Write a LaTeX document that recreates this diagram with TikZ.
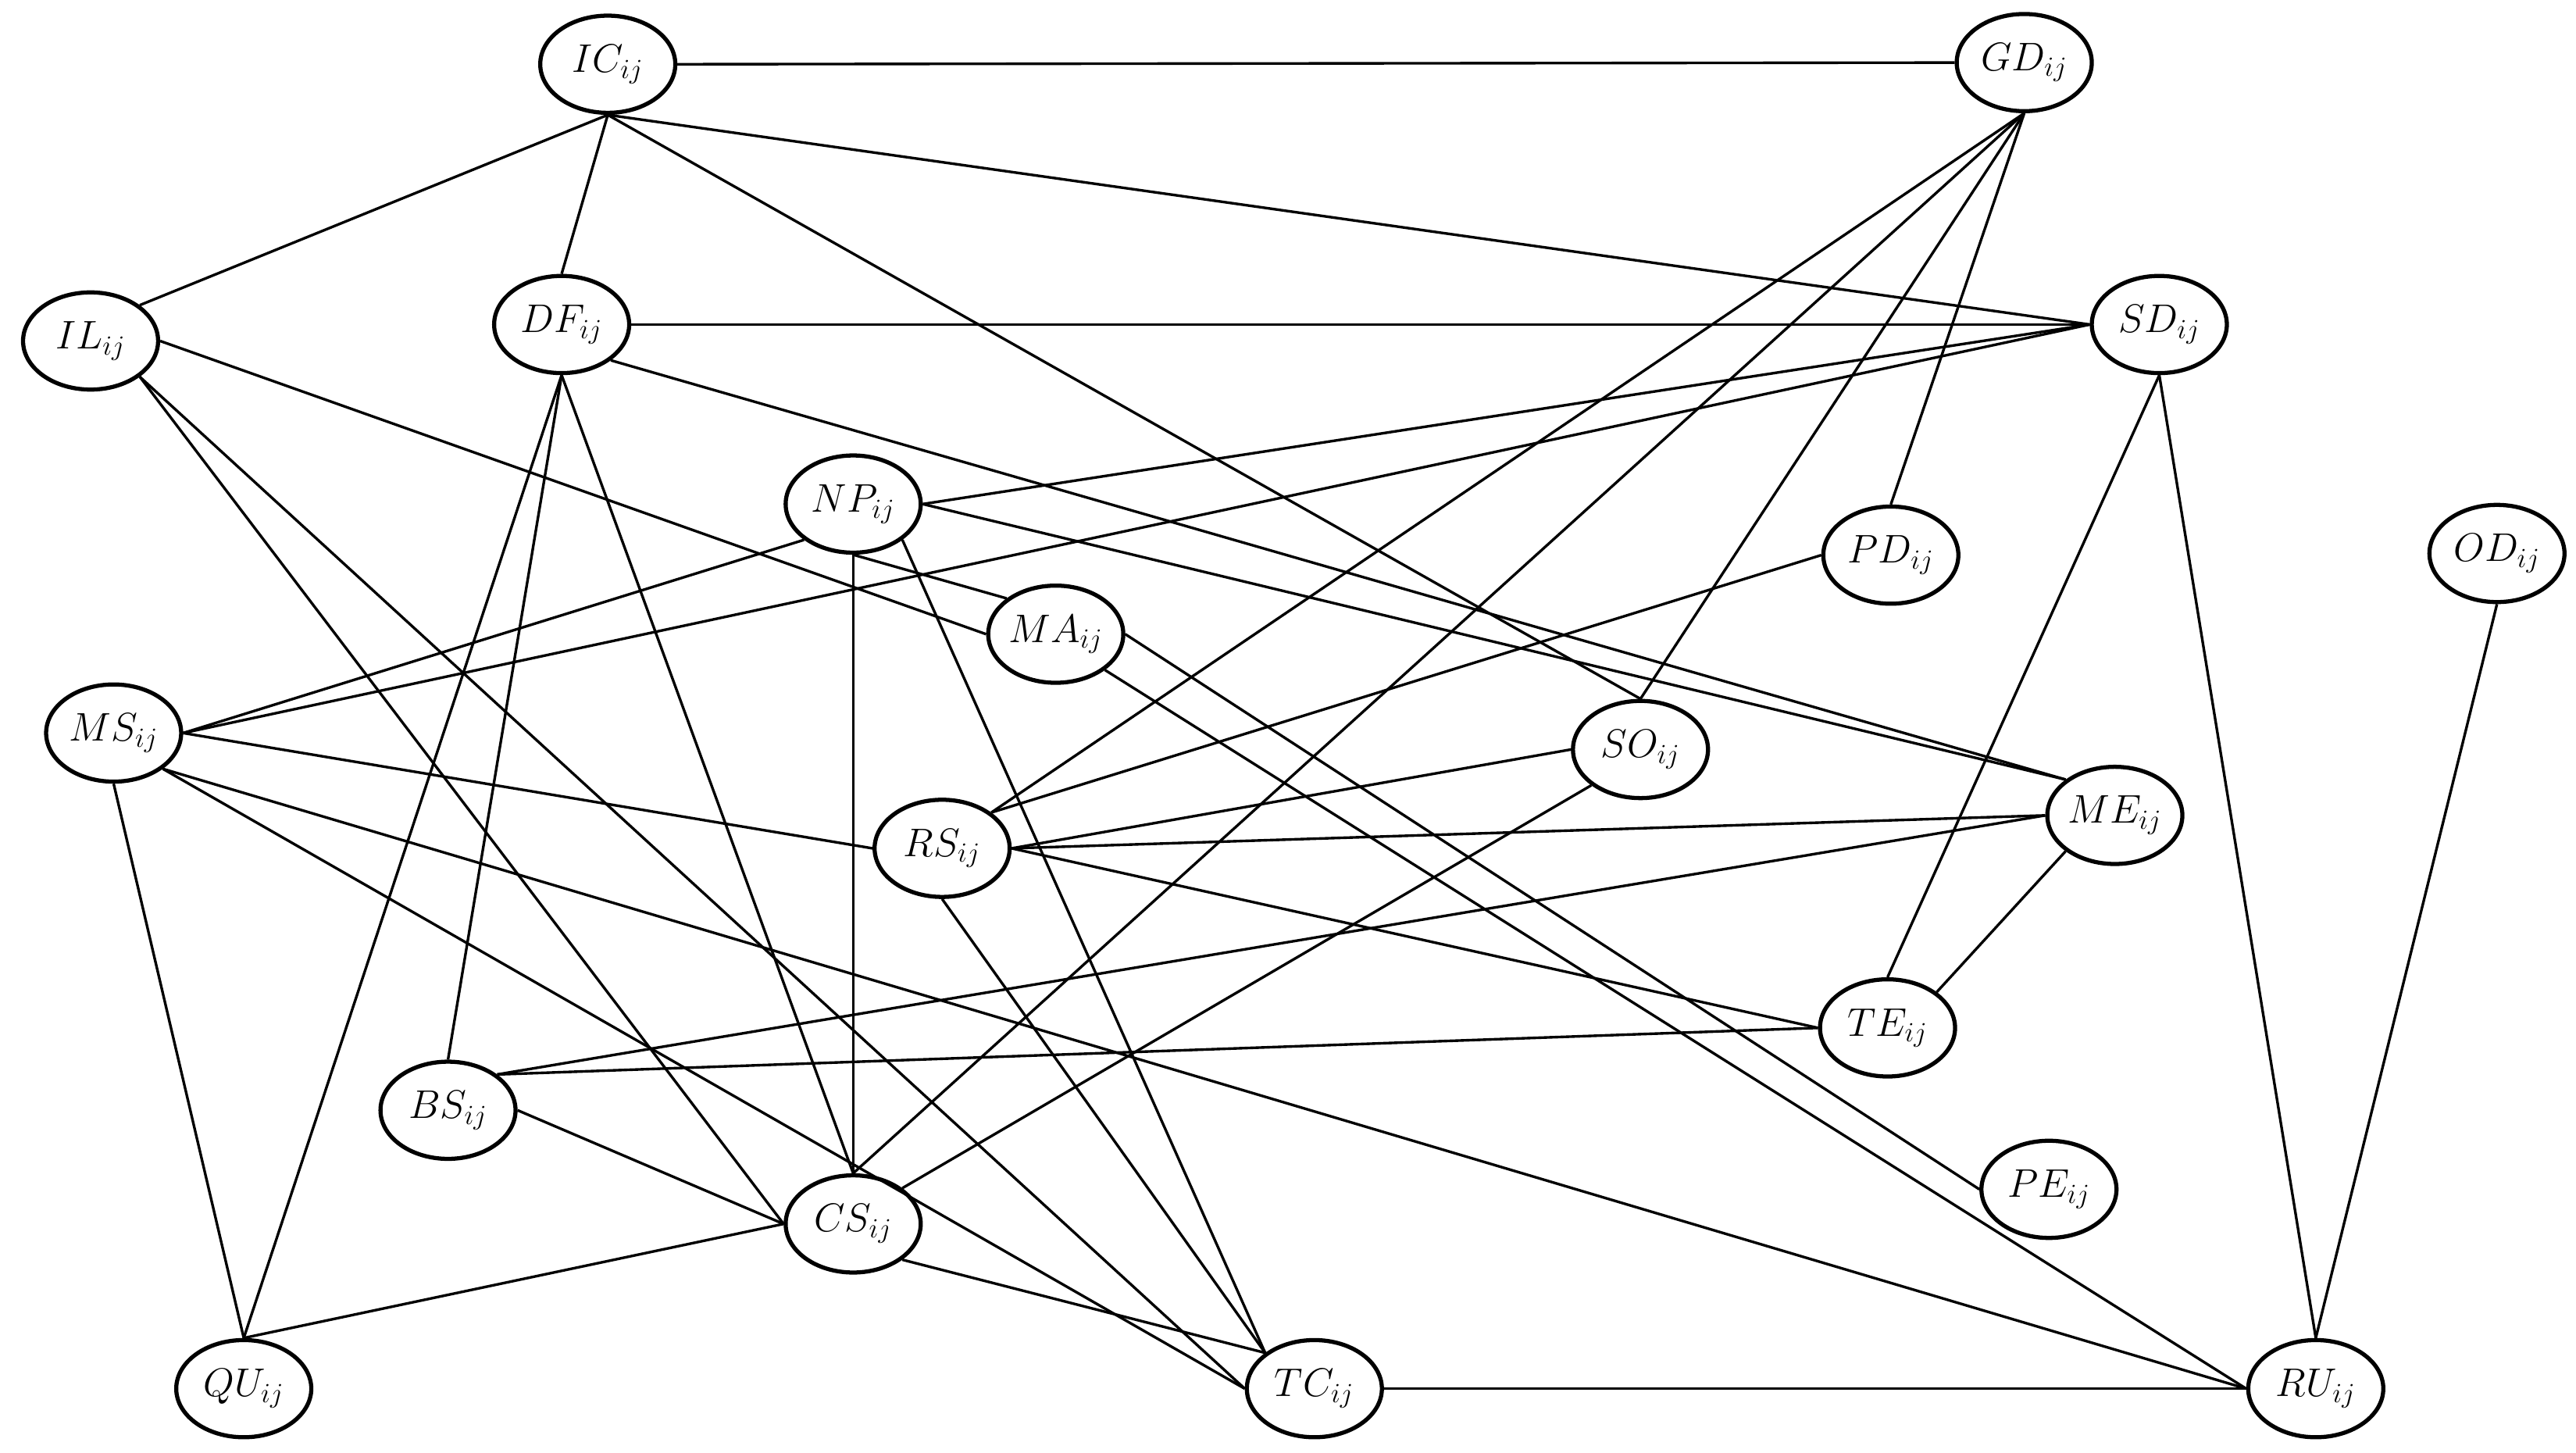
\documentclass[tikz,border=0pt]{standalone}
\usepackage{graphicx}
\DeclareMathSizes{20.74}{20.74}{14.4}{10}
\usetikzlibrary{shapes.geometric}
\newcommand{\lbl}[2]{\scalebox{1.17}{$#1_{#2}$}}
\begin{document}
\begin{tikzpicture}[x=1pt,y=-1pt,
  var/.style={ellipse, draw, line width=2.5pt, minimum width=82pt, minimum height=59pt, inner sep=0pt, font=\fontsize{20.74}{24}\selectfont, fill=white},
  link/.style={line width=1.6pt}]
\useasboundingbox (0,0) rectangle (1564,882);
% nodes
\node[var] (IC) at (369,39) {\lbl{IC}{ij}};
\node[var] (GD) at (1229,38) {\lbl{GD}{ij}};
\node[var] (IL) at (55,207) {\lbl{IL}{ij}};
\node[var] (DF) at (341,197) {\lbl{DF}{ij}};
\node[var] (SD) at (1311,197) {\lbl{SD}{ij}};
\node[var] (NP) at (518,306) {\lbl{NP}{ij}};
\node[var] (PD) at (1148,337) {\lbl{PD}{ij}};
\node[var] (OD) at (1516,336) {\lbl{OD}{ij}};
\node[var] (MA) at (641,385) {\lbl{MA}{ij}};
\node[var] (MS) at (69,445) {\lbl{MS}{ij}};
\node[var] (SO) at (996,455) {\lbl{SO}{ij}};
\node[var] (RS) at (572,515) {\lbl{RS}{ij}};
\node[var] (ME) at (1284,495) {\lbl{ME}{ij}};
\node[var] (TE) at (1146,624) {\lbl{TE}{ij}};
\node[var] (BS) at (272,674) {\lbl{BS}{ij}};
\node[var] (PE) at (1244,722) {\lbl{PE}{ij}};
\node[var] (CS) at (518,743) {\lbl{CS}{ij}};
\node[var] (QU) at (148,843) {\lbl{QU}{ij}};
\node[var] (TC) at (798,843) {\lbl{TC}{ij}};
\node[var] (RU) at (1406,843) {\lbl{RU}{ij}};
% connectors
\draw[link] (IC.east) -- (GD.west);
\draw[link] (IC.south) -- (IL.north east);
\draw[link] (IC.south) -- (DF.north);
\draw[link] (IC.south) -- (SD.west);
\draw[link] (IC.south) -- (SO.north);
\draw[link] (GD.south) -- (RS.north east);
\draw[link] (GD.south) -- (CS.north);
\draw[link] (GD.south) -- (SO.north);
\draw[link] (GD.south) -- (PD.north);
\draw[link] (IL.east) -- (MA.west);
\draw[link] (IL.south east) -- (CS.west);
\draw[link] (IL.south east) -- (TC.west);
\draw[link] (DF.east) -- (SD.west);
\draw[link] (DF.south) -- (QU.north);
\draw[link] (DF.south) -- (BS.north);
\draw[link] (DF.south) -- (CS.north);
\draw[link] (DF.south east) -- (ME.north west);
\draw[link] (SD.west) -- (NP.east);
\draw[link] (SD.west) -- (MS.east);
\draw[link] (SD.south) -- (TE.north);
\draw[link] (SD.south) -- (RU.north);
\draw[link] (NP.south west) -- (MS.east);
\draw[link] (NP.south) -- (CS.north);
\draw[link] (NP.south east) -- (TC.north west);
\draw[link] (NP.south) -- (MA.north west);
\draw[link] (NP.east) -- (ME.north west);
\draw[link] (PD.west) -- (RS.north east);
\draw[link] (OD.south) -- (RU.north);
\draw[link] (MA.east) -- (PE.west);
\draw[link] (MA.south east) -- (RU.west);
\draw[link] (MS.east) -- (RS.west);
\draw[link] (MS.south) -- (QU.north);
\draw[link] (MS.south east) -- (TC.west);
\draw[link] (MS.south east) -- (RU.west);
\draw[link] (SO.west) -- (RS.east);
\draw[link] (SO.south west) -- (CS.north east);
\draw[link] (RS.east) -- (ME.west);
\draw[link] (RS.east) -- (TE.west);
\draw[link] (RS.south) -- (TC.north west);
\draw[link] (ME.west) -- (BS.north east);
\draw[link] (ME.south west) -- (TE.north east);
\draw[link] (TE.west) -- (BS.north east);
\draw[link] (BS.east) -- (CS.west);
\draw[link] (CS.west) -- (QU.north);
\draw[link] (CS.south east) -- (TC.north west);
\draw[link] (TC.east) -- (RU.west);
\end{tikzpicture}
\end{document}
